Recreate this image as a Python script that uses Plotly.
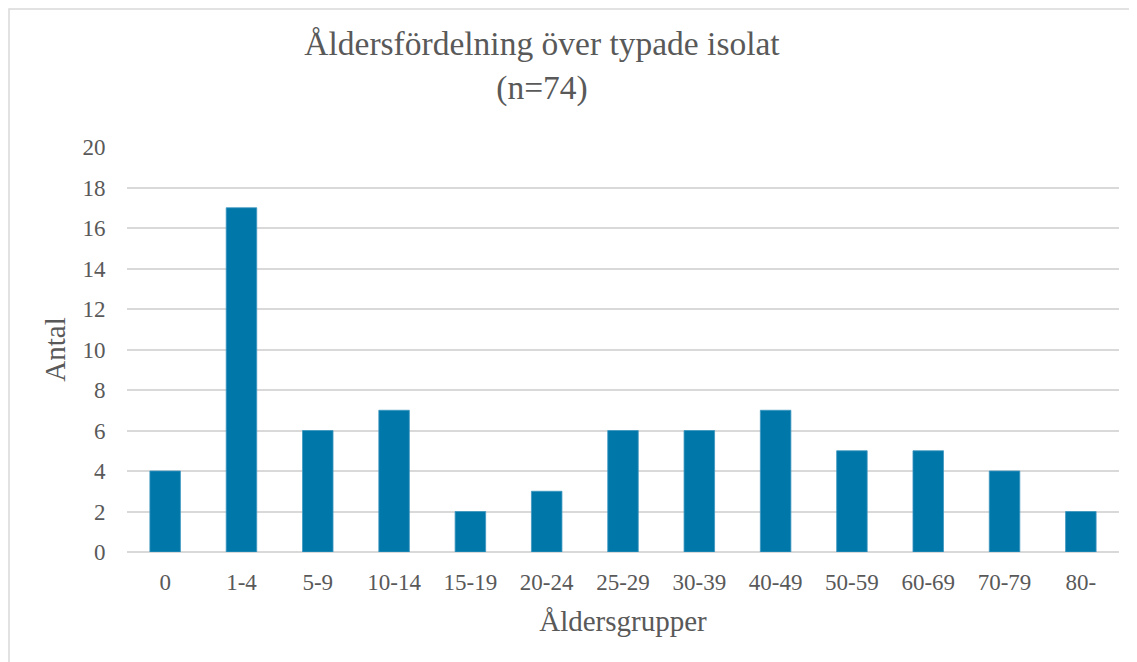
import plotly.graph_objects as go

categories = ["0", "1-4", "5-9", "10-14", "15-19", "20-24", "25-29", "30-39",
              "40-49", "50-59", "60-69", "70-79", "80-"]
counts = [4, 17, 6, 7, 2, 3, 6, 6, 7, 5, 5, 4, 2]
y_ticks = [0, 2, 4, 6, 8, 10, 12, 14, 16, 18, 20]

FONT = "Liberation Serif, Times New Roman, serif"
GREY = "#595959"

OFF = 8  # page body margin
W, H = 1137 - OFF, 662 - OFF
L, R, T, B = 127 - OFF, 26 - OFF, 147 - OFF, 110
pw, ph = W - L - R, H - T - B

def px_x(x):
    return (x - OFF - L) / pw

def px_y(y):
    return (H - B - (y - OFF)) / ph

fig = go.Figure(go.Bar(
    x=categories, y=counts,
    marker=dict(color="#0077A9", line=dict(color="#3D97C0", width=0.8)),
))

fig.update_layout(
    width=W, height=H,
    margin=dict(l=L, r=R, t=T, b=B, autoexpand=False),
    paper_bgcolor="white", plot_bgcolor="white",
    font=dict(family=FONT, color=GREY),
    bargap=0.6,
    showlegend=False,
    title=dict(
        text="Åldersfördelning över typade isolat<br>(n=74)",
        x=(542 - OFF) / W, xanchor="center", xref="container",
        y=1 - (28 + 27 - OFF) / H, yanchor="top", yref="container",
        font=dict(family=FONT, size=33.5, color=GREY),
    ),
    xaxis=dict(
        title=dict(text="Åldersgrupper", font=dict(size=29, color=GREY), standoff=17),
        tickfont=dict(size=23, color=GREY),
        ticks="outside", ticklen=9, tickcolor="rgba(0,0,0,0)",
        showline=False, showgrid=False, automargin=False,
    ),
    yaxis=dict(
        title=dict(text="Antal", font=dict(size=29, color=GREY), standoff=8),
        tickfont=dict(size=23, color=GREY),
        range=[0, 20], tickvals=y_ticks,
        ticks="outside", ticklen=16, tickcolor="rgba(0,0,0,0)",
        showgrid=True, gridcolor="#D9D9D9", gridwidth=1.5,
        zeroline=True, zerolinecolor="#D9D9D9", zerolinewidth=1.5,
        showline=False, automargin=False,
    ),
    shapes=[dict(
        type="rect", xref="paper", yref="paper",
        x0=px_x(OFF + 1), x1=px_x(1137 + 5), y0=px_y(662 + 5), y1=px_y(OFF + 1),
        line=dict(color="#D9D9D9", width=1.5), fillcolor="rgba(0,0,0,0)",
        layer="below",
    )],
)

fig.write_html("out.html")
